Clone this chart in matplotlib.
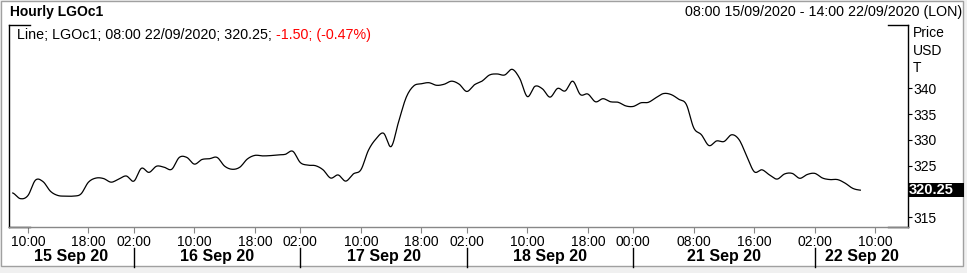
import matplotlib
matplotlib.use("Agg")
import matplotlib.pyplot as plt
import matplotlib.patches as patches
import matplotlib.transforms as mtransforms
import numpy as np
import pandas as pd

plt.rcParams["font.family"] = ["Liberation Sans", "DejaVu Sans"]

# trading sessions (date, first hour, last hour) shown on the axis
SESSIONS = [
    ("2020-09-15", 8, 22),
    ("2020-09-16", 1, 22),
    ("2020-09-17", 1, 22),
    ("2020-09-18", 1, 22),
    ("2020-09-20", 23, 23),
    ("2020-09-21", 0, 22),
    ("2020-09-22", 1, 14),
]

# hourly closes, 08:00 15/09 .. 08:00 22/09
PRICES = [
    319.7, 318.6, 319.2, 322.2, 321.9, 320.0, 319.2, 319.1, 319.1, 319.5,
    321.8, 322.6, 322.5, 321.8, 322.4, 323.0, 322.0, 324.5, 323.7, 324.9,
    324.7, 324.3, 326.6, 326.6, 325.3, 326.2, 326.35, 326.6, 324.9, 324.3,
    324.7, 326.3, 327.0, 326.9, 326.95, 327.1, 327.2, 327.8, 325.6, 325.1,
    325.0, 324.2, 322.6, 323.2, 322.0, 323.4, 324.2, 328.0, 330.2, 331.3,
    328.7, 333.6, 338.3, 340.5, 340.9, 341.1, 340.6, 340.8, 341.4, 340.8,
    339.4, 340.7, 341.4, 342.6, 342.8, 342.6, 343.7, 341.9, 338.4, 340.4,
    339.9, 338.3, 340.0, 339.5, 341.4, 338.8, 338.9, 337.4, 338.0, 337.4,
    337.3, 336.6, 336.5, 337.2, 337.3, 338.2, 339.0, 338.8, 337.9, 336.9,
    332.3, 331.0, 328.9, 329.8, 329.7, 331.0, 330.0, 326.8, 323.8, 324.2,
    323.2, 322.4, 323.4, 323.5, 322.55, 323.3, 323.5, 322.6, 322.3, 322.3,
    321.6, 320.6, 320.25,
]

TICK_TIMES = [
    "2020-09-15 10:00", "2020-09-15 18:00", "2020-09-16 02:00",
    "2020-09-16 10:00", "2020-09-16 18:00", "2020-09-17 02:00",
    "2020-09-17 10:00", "2020-09-17 18:00", "2020-09-18 02:00",
    "2020-09-18 10:00", "2020-09-18 18:00", "2020-09-21 00:00",
    "2020-09-21 08:00", "2020-09-21 16:00", "2020-09-22 02:00",
    "2020-09-22 10:00",
]
DAY_LABELS = ["15 Sep 20", "16 Sep 20", "17 Sep 20", "18 Sep 20", "21 Sep 20", "22 Sep 20"]
DAY_STARTS = ["2020-09-16 02:00", "2020-09-17 02:00", "2020-09-18 02:00",
              "2020-09-21 00:00", "2020-09-22 02:00"]
Y_TICKS = [315, 325, 330, 335, 340]
LAST_PRICE = 320.25

W, H = 967, 273


def fx(px):
    return px / W


def fy(py):
    return 1 - py / H


def catmull_rom(y, steps=8):
    # smooth drawing path through the hourly points (the terminal draws a curve)
    y = np.asarray(y, dtype=float)
    p = np.concatenate([[y[0]], y, [y[-1]]])
    xs, ys = [], []
    t = np.linspace(0, 1, steps, endpoint=False)
    for i in range(1, len(p) - 2):
        p0, p1, p2, p3 = p[i - 1], p[i], p[i + 1], p[i + 2]
        seg = 0.5 * (2 * p1 + (-p0 + p2) * t + (2 * p0 - 5 * p1 + 4 * p2 - p3) * t ** 2
                     + (-p0 + 3 * p1 - 3 * p2 + p3) * t ** 3)
        xs.append(i - 1 + t)
        ys.append(seg)
    xs.append([len(y) - 1])
    ys.append([y[-1]])
    return np.concatenate(xs), np.concatenate(ys)


times = []
for day, h0, h1 in SESSIONS:
    for h in range(h0, h1 + 1):
        times.append(pd.Timestamp(day) + pd.Timedelta(hours=h))
pos = {t: i for i, t in enumerate(times)}

fig = plt.figure(figsize=(W / 100, H / 100), dpi=100)
fig.patch.set_facecolor("#f0f0f0")
fig.add_artist(patches.Rectangle((fx(0.5), fy(266)), fx(962.5), 265.5 / H,
                                 transform=fig.transFigure, facecolor="white",
                                 edgecolor="#a0a0a0", linewidth=1, zorder=-10))

ax = fig.add_axes([fx(9), 46 / H, fx(899), 202 / H])
ax.set_facecolor("white")
sx, sy = catmull_rom(PRICES)
ax.plot(sx, sy, color="black", lw=0.9)
ax.set_xlim(-0.5, len(times) - 0.7)
ax.set_ylim(313.1, 352.3)

ax.yaxis.tick_right()
ax.set_yticks(Y_TICKS)
ax.set_yticklabels([str(v) for v in Y_TICKS], fontsize=10)
ax.tick_params(axis="y", length=3, width=0.8, pad=1, color="black")

tick_pos = [pos[pd.Timestamp(t)] for t in TICK_TIMES]
ax.set_xticks(tick_pos)
ax.set_xticklabels([t[-5:] for t in TICK_TIMES], fontsize=10)
ax.tick_params(axis="x", length=4, width=0.8, pad=2, color="#888888")

for side in ["left", "right"]:
    ax.spines[side].set_color("black")
    ax.spines[side].set_linewidth(1)
ax.spines["top"].set_visible(False)
ax.spines["bottom"].set_color("#888888")
ax.spines["bottom"].set_linewidth(1)
a0, a1 = 21 / 899, 879 / 899
for yy in (0, 1):
    ax.plot([0, a0], [yy, yy], color="black", lw=1, transform=ax.transAxes, clip_on=False)
    ax.plot([a1, 1], [yy, yy], color="black", lw=1, transform=ax.transAxes, clip_on=False)

# day separators and labels
sep_pos = [pos[pd.Timestamp(t)] for t in DAY_STARTS]
edges = [ax.get_xlim()[0]] + sep_pos + [ax.get_xlim()[1]]
trans = mtransforms.blended_transform_factory(ax.transData, fig.transFigure)
for x in sep_pos:
    ax.plot([x, x], [fy(248), fy(267)], color="black", lw=1, transform=trans, clip_on=False)
for lab, l, r in zip(DAY_LABELS, edges[:-1], edges[1:]):
    ax.text((l + r) / 2, fy(256.5), lab, transform=trans, ha="center", va="center",
            fontsize=11.5, fontweight="bold")

# last price box
ytrans = mtransforms.blended_transform_factory(fig.transFigure, ax.transData)
price_py = H - ax.transData.transform((0, LAST_PRICE))[1]
fig.add_artist(patches.Rectangle((fx(908), fy(price_py + 7)), fx(56), 14 / H,
                                 transform=fig.transFigure, facecolor="black",
                                 edgecolor="none", zorder=5))
fig.text(fx(909), fy(price_py), f"{LAST_PRICE:.2f}", ha="left", va="center",
         fontsize=10.5, fontweight="bold", color="white", zorder=6)

for lab, py in [("Price", 33), ("USD", 51), ("T", 68)]:
    fig.text(fx(913), fy(py), lab, ha="left", va="center", fontsize=10)

fig.text(fx(10), fy(12), "Hourly LGOc1", ha="left", va="center", fontsize=10, fontweight="bold")
fig.text(fx(962), fy(12), "08:00 15/09/2020 - 14:00 22/09/2020 (LON)", ha="right", va="center",
         fontsize=10.3)

t1 = fig.text(fx(17), fy(35), "Line; LGOc1; 08:00 22/09/2020; 320.25; ", ha="left", va="center",
              fontsize=10.3)
fig.add_artist(plt.Annotation("-1.50; (-0.47%)", xy=(1, 0), xycoords=t1, va="bottom", ha="left",
                              fontsize=10.3, color="#ff0000"))

fig.savefig("out.png", dpi=100, facecolor=fig.get_facecolor())
